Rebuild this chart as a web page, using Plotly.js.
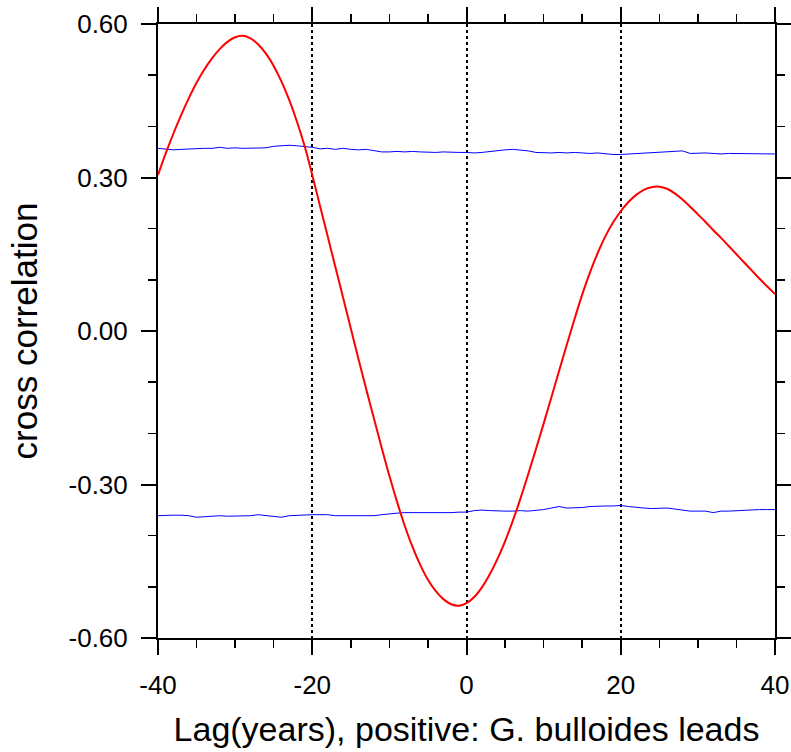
<!DOCTYPE html>
<html>
<head>
<meta charset="utf-8">
<script src="https://cdn.plot.ly/plotly-3.0.1.min.js"></script>
<style>html,body{margin:0;padding:0;background:#fff;}#chart{width:791px;height:752px;}</style>
</head>
<body>
<div id="chart"></div>
<script>
// Lag in years
var lags = [-40,-39,-38,-37,-36,-35,-34,-33,-32,-31,-30,-29,-28,-27,-26,-25,-24,-23,-22,-21,
            -20,-19,-18,-17,-16,-15,-14,-13,-12,-11,-10,-9,-8,-7,-6,-5,-4,-3,-2,-1,
            0,1,2,3,4,5,6,7,8,9,10,11,12,13,14,15,16,17,18,19,
            20,21,22,23,24,25,26,27,28,29,30,31,32,33,34,35,36,37,38,39,40];

// Cross correlation (red)
var crossCorr = [0.305,0.347,0.386,0.422,0.455,0.485,0.511,0.533,0.551,0.565,
                 0.574,0.577,0.572,0.560,0.542,0.518,0.488,0.452,0.410,0.362,
                 0.305,0.245,0.185,0.125,0.065,0.005,-0.055,-0.114,-0.171,-0.228,
                 -0.283,-0.334,-0.381,-0.422,-0.457,-0.486,-0.508,-0.524,-0.534,-0.537,
                 -0.532,-0.520,-0.501,-0.476,-0.446,-0.411,-0.371,-0.327,-0.280,-0.231,
                 -0.181,-0.130,-0.078,-0.027,0.023,0.071,0.114,0.152,0.185,0.212,
                 0.234,0.252,0.266,0.276,0.281,0.282,0.278,0.269,0.257,0.243,
                 0.228,0.213,0.197,0.182,0.166,0.150,0.134,0.118,0.102,0.087,0.072];

// Upper significance level (blue)
var upperSig = [0.357,0.355,0.354,0.355,0.356,0.356,0.357,0.357,0.359,0.357,
                0.358,0.357,0.357,0.357,0.358,0.361,0.362,0.363,0.362,0.361,
                0.359,0.356,0.357,0.355,0.357,0.355,0.354,0.355,0.353,0.350,
                0.350,0.351,0.350,0.351,0.350,0.349,0.349,0.350,0.349,0.349,
                0.349,0.348,0.349,0.351,0.352,0.354,0.355,0.354,0.352,0.349,
                0.348,0.348,0.349,0.348,0.349,0.348,0.347,0.348,0.346,0.345,
                0.345,0.346,0.346,0.347,0.348,0.349,0.350,0.351,0.352,0.347,
                0.348,0.348,0.347,0.346,0.347,0.347,0.346,0.347,0.346,0.346,0.346];

// Lower significance level (blue)
var lowerSig = [-0.361,-0.360,-0.360,-0.360,-0.361,-0.364,-0.363,-0.362,-0.361,-0.362,
                -0.362,-0.361,-0.361,-0.359,-0.361,-0.362,-0.364,-0.361,-0.360,-0.359,
                -0.359,-0.359,-0.359,-0.361,-0.361,-0.361,-0.361,-0.361,-0.361,-0.359,
                -0.357,-0.356,-0.355,-0.355,-0.356,-0.356,-0.356,-0.355,-0.355,-0.354,
                -0.354,-0.351,-0.350,-0.351,-0.352,-0.352,-0.352,-0.351,-0.352,-0.351,
                -0.349,-0.346,-0.343,-0.346,-0.346,-0.345,-0.343,-0.342,-0.342,-0.342,
                -0.341,-0.343,-0.345,-0.346,-0.347,-0.347,-0.346,-0.348,-0.350,-0.352,
                -0.352,-0.352,-0.355,-0.352,-0.352,-0.351,-0.350,-0.350,-0.349,-0.349,-0.349];

var xTickVals = [-40,-20,0,20,40];
var xTickText = ['-40','-20','0','20','40'];
var yTickVals = [-0.6,-0.3,0,0.3,0.6];
var yTickText = ['-0.60','-0.30','0.00','0.30','0.60'];

var font = 'Liberation Sans, Arial, Helvetica, sans-serif';

var traces = [
  {x: lags, y: upperSig, mode: 'lines', line: {color: '#0000ff', width: 1}, hoverinfo: 'skip'},
  {x: lags, y: lowerSig, mode: 'lines', line: {color: '#0000ff', width: 1}, hoverinfo: 'skip'},
  {x: lags, y: crossCorr, mode: 'lines', line: {color: '#ff0000', width: 2, shape: 'spline', smoothing: 1}, hoverinfo: 'skip'}
];

var layout = {
  width: 791, height: 752,
  margin: {l: 158, r: 16, t: 24, b: 114},
  paper_bgcolor: '#fff', plot_bgcolor: '#fff',
  showlegend: false,
  font: {family: font, color: '#000', size: 26},
  xaxis: {
    range: [-40, 40],
    tickmode: 'array', tickvals: xTickVals, ticktext: xTickText,
    ticks: 'outside', ticklen: 15, tickwidth: 2, tickcolor: '#000',
    minor: {dtick: 5, tick0: 0, ticks: 'outside', ticklen: 8, tickwidth: 1.5, tickcolor: '#000'},
    showline: true, linecolor: '#000', linewidth: 2, mirror: 'allticks',
    showgrid: true, gridcolor: '#000', gridwidth: 2, griddash: 'dot',
    zeroline: false,
    tickfont: {family: font, size: 26, color: '#000'},
    ticklabelstandoff: 8,
    title: {text: 'Lag(years), positive: G. bulloides leads', font: {family: font, size: 34, color: '#000'}, standoff: 18}
  },
  yaxis: {
    range: [-0.6, 0.6],
    tickmode: 'array', tickvals: yTickVals, ticktext: yTickText,
    ticks: 'outside', ticklen: 15, tickwidth: 2, tickcolor: '#000',
    minor: {dtick: 0.1, tick0: 0, ticks: 'outside', ticklen: 8, tickwidth: 1.5, tickcolor: '#000'},
    showline: true, linecolor: '#000', linewidth: 2, mirror: 'allticks',
    showgrid: false, zeroline: false,
    tickfont: {family: font, size: 26, color: '#000'},
    ticklabelstandoff: 8,
    title: {text: 'cross correlation', font: {family: font, size: 35, color: '#000'}, standoff: 20}
  }
};

Plotly.newPlot('chart', traces, layout, {staticPlot: true, displayModeBar: false});
</script>
</body>
</html>
